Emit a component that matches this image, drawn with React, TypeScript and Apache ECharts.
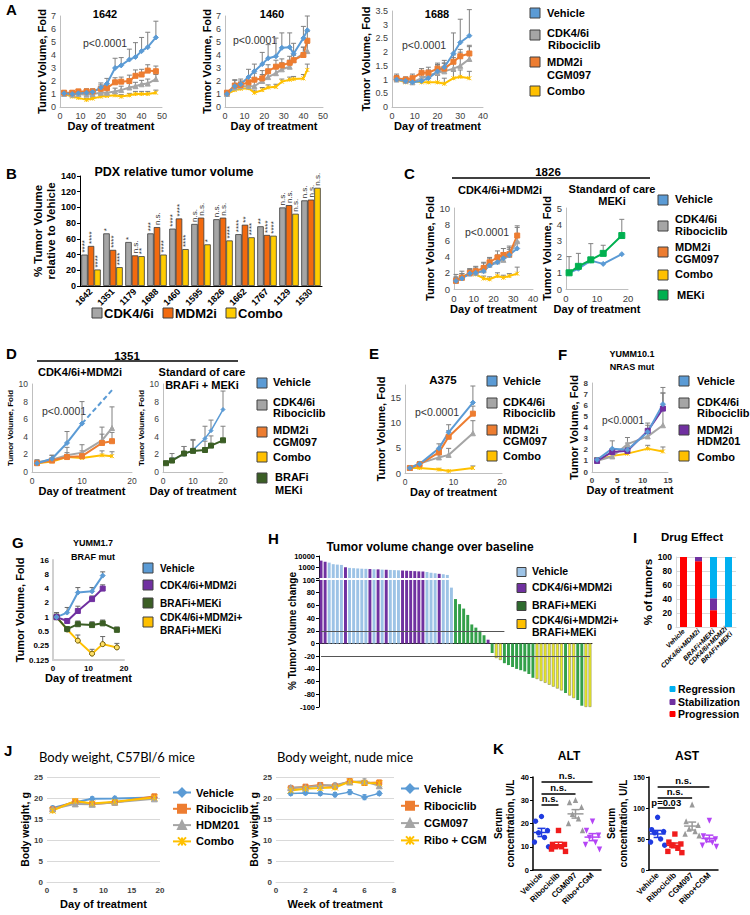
import React, { useEffect, useRef } from 'react';
import * as echarts from 'echarts';

const F = '"Liberation Sans", Arial, Helvetica, sans-serif';
const FL = 'Lato, "Open Sans", sans-serif';

const BLUE = '#5b9bd5';
const GRAY = '#a5a5a5';
const ORANGE = '#ed7d31';
const YELLOW = '#ffc000';
const PURPLE = '#7030a0';
const DKGREEN = '#3b5e25';
const GREEN = '#00b050';
const ERR = '#808080';
const STAR = 'path://M0,0L10,10M10,0L0,10M5,0L5,10';

// ---------------- A ----------------
const a1642Days = [2, 6, 9, 13, 16, 20, 23, 27, 30, 34, 37, 40, 43, 47];
const a1642Veh = [1.05, 1.0, 1.05, 1.1, 1.15, 1.5, 1.8, 3.0, 3.2, 3.65, 3.85, 4.3, 4.6, 5.35];
const a1642VehErr = [0.15, 0.15, 0.2, 0.15, 0.2, 0.35, 0.4, 0.75, 0.6, 0.8, 1.1, 1.05, 1.15, 1.25];
const a1642Cdk = [1.0, 0.95, 1.0, 0.95, 1.0, 1.1, 1.1, 1.2, 1.3, 1.5, 1.6, 1.75, 1.8, 2.15];
const a1642CdkErr = [0.15, 0.15, 0.15, 0.15, 0.15, 0.2, 0.25, 0.25, 0.3, 0.3, 0.3, 0.3, 0.35, 0.35];
const a1642Mdm = [1.1, 1.1, 1.2, 1.2, 1.2, 1.4, 1.45, 1.9, 1.95, 2.0, 2.4, 2.5, 2.8, 2.75];
const a1642MdmErr = [0.15, 0.15, 0.15, 0.2, 0.2, 0.3, 0.3, 0.35, 0.35, 0.45, 0.45, 0.4, 0.45, 0.4];
const a1642Combo = [1.0, 0.8, 0.7, 0.55, 0.65, 0.8, 0.85, 0.9, 0.8, 0.9, 1.0, 1.0, 1.0, 1.1];
const a1642ComboErr = [0.1, 0.1, 0.1, 0.1, 0.1, 0.1, 0.15, 0.15, 0.15, 0.15, 0.2, 0.2, 0.2, 0.2];

const a1460Days = [1, 5, 8, 12, 15, 19, 22, 26, 29, 33, 35, 40, 42];
const a1460Veh = [1.0, 1.6, 1.75, 2.3, 2.75, 3.3, 3.75, 3.9, 4.55, 4.6, 4.1, 5.3, 5.9];
const a1460VehErr = [0.15, 0.5, 0.4, 0.6, 0.55, 0.9, 1.05, 1.4, 1.15, 1.1, 0.8, 0.9, 1.1];
const a1460Cdk = [1.0, 1.5, 1.6, 1.6, 1.6, 2.0, 2.3, 2.6, 2.9, 3.1, 3.6, 4.1, 4.3];
const a1460CdkErr = [0.15, 0.3, 0.3, 0.4, 0.4, 0.5, 0.5, 0.5, 0.5, 0.5, 0.4, 0.5, 0.6];
const a1460Mdm = [1.1, 1.65, 1.7, 1.9, 2.1, 2.2, 2.75, 3.1, 3.2, 3.4, 3.6, 4.0, 5.1];
const a1460MdmErr = [0.15, 0.4, 0.3, 0.4, 0.5, 0.6, 0.5, 0.5, 0.5, 0.5, 0.4, 0.6, 0.7];
const a1460Combo = [1.0, 1.3, 1.4, 1.45, 1.1, 1.3, 1.5, 1.55, 1.95, 2.1, 2.15, 2.2, 2.85];
const a1460ComboErr = [0.1, 0.2, 0.2, 0.2, 0.2, 0.2, 0.2, 0.2, 0.2, 0.2, 0.2, 0.3, 0.45];

const a1688Days = [2, 6, 9, 13, 16, 20, 23, 27, 30, 34];
const a1688Veh = [1.0, 0.95, 0.9, 0.95, 1.05, 1.3, 1.45, 1.95, 2.35, 2.6];
const a1688VehErr = [0.2, 0.1, 0.1, 0.15, 0.15, 0.2, 0.25, 0.75, 0.85, 0.95];
const a1688Cdk = [1.0, 0.95, 0.9, 1.05, 1.15, 1.25, 1.3, 1.4, 1.5, 1.75];
const a1688CdkErr = [0.1, 0.1, 0.1, 0.15, 0.2, 0.3, 0.3, 0.4, 0.5, 0.45];
const a1688Mdm = [1.05, 1.0, 1.05, 1.25, 1.25, 1.4, 1.4, 1.65, 1.85, 1.95];
const a1688MdmErr = [0.1, 0.1, 0.15, 0.15, 0.2, 0.2, 0.2, 0.25, 0.25, 0.3];
const a1688Combo = [1.0, 0.9, 0.95, 0.9, 0.9, 0.9, 0.85, 1.05, 1.1, 1.05];
const a1688ComboErr = [0.1, 0.1, 0.1, 0.1, 0.15, 0.25, 0.2, 0.25, 0.25, 0.25];

// ---------------- B ----------------
const bCats = ['1642', '1351', '1179', '1688', '1460', '1595', '1826', '1662', '1767', '1129', '1530'];
const bCdk = [40, 67, 56, 67, 73, 79, 85, 66, 76, 100, 109];
const bMdm = [51, 46, 39, 75, 86, 87, 87, 78, 65, 103, 110];
const bCombo = [21, 24, 38, 40, 47, 53, 58, 62, 64, 92, 125];
const bSigCdk = ['****', '*', '*', '***', '****', 'n.s.', 'n.s.', '****', '**', 'n.s.', 'n.s.'];
const bSigMdm = ['****', '****', 'n.s.', 'n.s.', '****', 'n.s.', 'n.s.', '**', '****', 'n.s.', 'n.s.'];
const bSigCombo = ['****', '****', '**', '****', '****', '*', '****', '****', '****', 'n.s.', 'n.s.'];

// ---------------- C ----------------
const cDays = [1, 4, 8, 11, 15, 18, 22, 25, 28, 32];
const cVeh = [1.0, 1.3, 1.9, 2.0, 2.2, 2.9, 3.3, 3.8, 4.2, 5.0];
const cVehErr = [0.3, 0.4, 0.4, 0.5, 0.5, 0.6, 0.6, 0.7, 0.7, 0.8];
const cCdk = [1.1, 1.4, 1.9, 2.0, 2.3, 3.0, 3.4, 3.6, 4.2, 5.9];
const cCdkErr = [0.7, 0.8, 0.6, 0.8, 0.9, 0.8, 0.8, 0.8, 0.9, 1.7];
const cMdm = [1.0, 1.4, 2.0, 2.2, 2.6, 3.3, 3.9, 4.2, 4.3, 6.6];
const cMdmErr = [0.5, 0.5, 0.5, 0.5, 0.7, 0.6, 0.8, 0.8, 1.0, 1.2];
const cCombo = [1.0, 1.5, 1.9, 1.8, 1.3, 1.2, 1.6, 1.4, 1.6, 1.9];
const cComboErr = [0.4, 0.4, 0.5, 0.3, 0.3, 0.3, 0.4, 0.3, 0.3, 0.8];
const c2Days = [1, 4, 8, 12, 18];
const c2Veh = [1.0, 1.25, 1.75, 1.55, 2.15];
const c2Mek = [1.0, 1.4, 1.8, 2.2, 3.3];
const c2MekErr = [1.0, 0.8, 1.0, 0.5, 1.0];

// ---------------- D ----------------
const d1Days = [1, 4, 7, 10, 14, 16];
const d1VehDays = [1, 4, 7, 10];
const d1Veh = [1.0, 1.5, 3.3, 5.5];
const d1VehErr = [0.2, 0.4, 1.3, 2.5];
const d1VehProjDays = [10, 16];
const d1VehProj = [5.5, 9.3];
const d1Cdk = [1.1, 1.4, 1.9, 2.2, 3.6, 5.0];
const d1CdkErr = [0.3, 0.5, 0.9, 0.9, 1.5, 2.4];
const d1Mdm = [1.0, 1.3, 1.7, 1.8, 3.3, 3.5];
const d1MdmErr = [0.3, 0.3, 0.5, 0.6, 1.0, 1.0];
const d1Combo = [1.0, 1.2, 1.7, 1.6, 1.9, 1.8];
const d1ComboErr = [0.2, 0.3, 0.3, 0.4, 0.5, 0.5];
const d2Days = [1, 3, 7, 10, 14, 16, 20];
const d2Veh = [1.0, 1.4, 2.0, 2.5, 3.8, 4.7, 7.1];
const d2VehErr = [0.2, 0.7, 0.9, 1.1, 1.4, 1.2, 2.1];
const d2BrafMek = [1.0, 1.3, 2.1, 2.4, 2.5, 3.0, 3.6];
const d2BrafMekErr = [0.2, 0.3, 0.8, 1.3, 1.0, 1.1, 1.6];

// ---------------- E ----------------
const eDays = [1, 3, 7, 9, 14];
const eVeh = [1.0, 1.8, 4.9, 8.1, 14.0];
const eVehErr = [0.2, 0.4, 0.9, 1.5, 3.3];
const eCdk = [1.0, 1.9, 3.1, 3.6, 7.9];
const eCdkErr = [0.2, 0.3, 0.5, 1.3, 2.5];
const eMdm = [1.0, 1.7, 4.1, 7.2, 11.8];
const eMdmErr = [0.2, 0.3, 0.6, 1.2, 1.5];
const eCombo = [1.0, 1.0, 0.7, 0.4, 1.0];
const eComboErr = [0.1, 0.1, 0.1, 0.1, 0.4];

// ---------------- F ----------------
const fDays = [1, 4, 7, 11, 14];
const fVeh = [1.1, 2.1, 2.0, 3.6, 6.1];
const fVehErr = [0.2, 0.7, 0.6, 0.8, 1.5];
const fCdk = [1.0, 1.4, 2.5, 3.2, 4.2];
const fCdkErr = [0.3, 0.3, 0.6, 0.4, 2.9];
const fMdm = [1.0, 1.8, 1.9, 3.7, 5.7];
const fMdmErr = [0.3, 0.3, 0.3, 0.5, 1.4];
const fCombo = [1.05, 1.45, 1.65, 2.1, 1.85];
const fComboErr = [0.2, 0.2, 0.2, 0.3, 0.4];

// ---------------- G ----------------
const gDays = [1, 4, 7, 11, 14];
const gDaysLong = [1, 4, 7, 11, 14, 18];
const gVeh = [1.0, 1.25, 3.3, 3.5, 7.5];
const gVehErr = [0.25, 0.35, 0.9, 0.7, 1.5];
const gCdkMdm = [1.0, 0.83, 1.35, 2.4, 4.0];
const gCdkMdmErr = [0.15, 0.1, 0.35, 0.4, 0.8];
const gBrafMek = [1.0, 0.56, 0.71, 0.68, 0.74, 0.54];
const gBrafMekErr = [0.15, 0.05, 0.12, 0.12, 0.13, 0.08];
const gQuad = [1.0, 0.55, 0.32, 0.17, 0.27, 0.23];
const gQuadErr = [0.15, 0.05, 0.1, 0.04, 0.12, 0.05];

// ---------------- H ----------------
const hValues = [3800, 3000, 2500, 1800, 1650, 1550, 950, 830, 780, 740, 700, 680, 650, 630, 610, 580, 560, 540, 520, 500, 480, 460, 440, 420, 400, 390, 350, 300, 270, 240, 220, 190, 88, 70, 62, 55, 45, 30, 25, 20, 13, 6, -15, -23, -26, -31, -34, -37, -40, -42, -44, -48, -54, -56, -59, -62, -65, -68, -71, -74, -78, -82, -86, -89, -98, -100, -100];
const hGroup = [1, 1, 0, 0, 0, 0, 1, 0, 0, 0, 0, 0, 1, 0, 1, 0, 1, 0, 0, 0, 1, 1, 1, 1, 1, 1, 0, 0, 0, 1, 0, 0, 0, 2, 2, 2, 2, 2, 2, 2, 2, 1, 2, 3, 3, 2, 2, 2, 2, 2, 2, 2, 2, 3, 3, 3, 3, 3, 3, 3, 2, 3, 3, 2, 2, 3, 3];
const hRefLines = [20, -20];
const hRefEnds = [45, 66];

// ---------------- I ----------------
const iCats = ['Vehicle', 'CDK4/6i+MDM2i', 'BRAFi+MEKi', 'CDK4/6i+MDM2i\nBRAFi+MEKi'];
const iProgression = [100, 94, 24, 0];
const iStabilization = [0, 6, 17, 0];
const iRegression = [0, 0, 59, 100];

// ---------------- J ----------------
const jDays = [1, 5, 8, 12, 19];
const jVeh = [17.6, 19.0, 19.8, 19.9, 20.1];
const jRibo = [17.3, 19.2, 18.6, 18.9, 20.4];
const jHdm = [17.4, 18.6, 18.5, 19.0, 19.8];
const jCombo = [17.0, 19.3, 18.7, 19.1, 20.1];
const jErr = [0.5, 0.3, 0.5, 0.5, 0.4];
const jnWeeks = [1, 2, 3, 4, 5, 6, 7];
const jnVeh = [21.1, 21.2, 21.1, 20.8, 21.4, 20.2, 21.1];
const jnRibo = [22.3, 22.7, 23.1, 22.8, 24.0, 23.6, 23.7];
const jnCgm = [22.5, 22.5, 23.0, 23.1, 23.8, 24.0, 22.9];
const jnCombo = [21.8, 22.2, 22.4, 22.5, 23.9, 23.6, 23.5];
const jnErr = [0.5, 0.4, 0.5, 0.5, 0.6, 0.6, 0.5];

// ---------------- K ----------------
const kCats = ['Vehicle', 'Ribociclib', 'CGM097', 'Ribo+CGM'];
const altVeh = [23, 21, 17, 16, 14, 12, 10];
const altRibo = [17, 11, 11, 10, 10, 9, 8];
const altCgm = [30, 29, 27, 24, 22, 20, 17];
const altCombo = [21, 17, 15, 14, 12, 11, 9];
const astVeh = [85, 65, 62, 60, 50, 45, 40];
const astRibo = [58, 45, 42, 40, 35, 30, 28];
const astCgm = [105, 78, 72, 66, 62, 58, 55];
const astCombo = [80, 55, 50, 48, 45, 40, 38];
const altSigFrom = [0, 0, 0];
const altSigTo = [3, 2, 1];
const altSigY = [38, 33, 28];
const altSigText = ['n.s.', 'n.s.', 'n.s.'];
const astSigFrom = [0, 0, 0];
const astSigTo = [3, 2, 1];
const astSigY = [135, 117, 100];
const astSigText = ['n.s.', 'n.s.', 'p=0.03'];

// ---------------- layout ----------------
const GRIDS = [
  [60, 16, 102, 91],
  [225, 16, 98, 91],
  [392, 11, 91, 96],
  [80, 176, 242, 110],
  [454, 208, 79, 81],
  [566, 208, 62, 81],
  [32, 384, 100, 88],
  [163, 384, 60, 88],
  [405, 385, 97, 88],
  [592, 383, 76, 89],
  [53, 560, 71, 100],
  [319, 556, 273, 22],
  [319, 580, 273, 127],
  [676, 557, 60, 70],
  [47, 777, 113, 105],
  [276, 777, 118, 105],
  [533, 777, 68, 93],
  [649, 777, 69, 93],
];

const H_COLORS = ['#9dc3e6', '#7030a0', '#33a04a', '#eeee22'];
const K_COLORS = ['#1f3be0', '#f01c1c', '#9a9a9a', '#b445f5'];
const K_SHAPES = ['circle', 'square', 'triangle', 'down'];
const K_JITTER = [0, -6, 6, -3, 3, -7, 7];

function clean(o: any) {
  const r: any = {};
  Object.keys(o).forEach((k) => { if (o[k] !== undefined) r[k] = o[k]; });
  return r;
}

function valAxis(gi: number, min: number, max: number, interval: number | undefined, o: any = {}) {
  const lc = o.lineColor ?? '#bfbfbf';
  return clean({
    gridIndex: gi,
    type: o.type ?? 'value',
    logBase: o.logBase,
    min,
    max,
    interval,
    splitNumber: o.splitNumber,
    axisLine: { show: o.line !== false, onZero: false, lineStyle: { color: lc, width: o.lineWidth ?? 1 } },
    axisTick: { show: !!o.ticks, length: 3, lineStyle: { color: lc } },
    splitLine: { show: !!o.split, lineStyle: { color: '#d9d9d9', width: 1 } },
    axisLabel: clean({
      show: o.labels !== false,
      fontSize: o.fs ?? 9,
      fontFamily: F,
      color: o.lc ?? '#404040',
      fontWeight: o.bold ? 'bold' : 'normal',
      margin: o.margin ?? 4,
      formatter: o.fmt,
    }),
    name: o.name ?? '',
    nameLocation: 'middle',
    nameGap: o.gap ?? 14,
    nameTextStyle: clean({ fontSize: o.nfs ?? 11, fontWeight: 'bold', fontFamily: F, color: '#000', lineHeight: o.nlh }),
  });
}

function catAxis(gi: number, data: string[], o: any = {}) {
  return {
    gridIndex: gi,
    type: 'category',
    data,
    axisLine: { show: o.line !== false, onZero: o.onZero ?? true, lineStyle: { color: o.lineColor ?? '#000', width: o.lineWidth ?? 1 } },
    axisTick: { show: false },
    axisLabel: clean({
      show: o.labels !== false,
      interval: 0,
      rotate: o.rotate ?? 0,
      fontSize: o.fs ?? 9,
      fontFamily: F,
      fontWeight: 'bold',
      fontStyle: o.italic ? 'italic' : 'normal',
      color: '#000',
      margin: o.margin ?? 4,
      lineHeight: o.lh,
    }),
  };
}

function lineS(gi: number, xs: number[], ys: number[], color: string, symbol: string, size: number, extra: any = {}) {
  return {
    type: 'line',
    xAxisIndex: gi,
    yAxisIndex: gi,
    data: xs.map((x, i) => [x, ys[i]]),
    symbol,
    symbolSize: size,
    showAllSymbol: true,
    lineStyle: { color, width: 2 },
    itemStyle: { color, borderColor: color, borderWidth: 1 },
    z: 3,
    silent: true,
    ...extra,
  };
}

function errS(gi: number, xs: number[], ys: number[], es: number[], color = ERR, cap = 2.5, both = false) {
  return {
    type: 'custom',
    xAxisIndex: gi,
    yAxisIndex: gi,
    z: 2,
    silent: true,
    data: xs.map((x, i) => [x, ys[i], ys[i] + es[i], both ? ys[i] - es[i] : ys[i]]),
    encode: { x: 0, y: [1, 2, 3] },
    renderItem: (_p: any, api: any) => {
      const top = api.coord([api.value(0), api.value(2)]);
      const bot = api.coord([api.value(0), api.value(3)]);
      const st = { stroke: color, lineWidth: 1 };
      const kids: any[] = [
        { type: 'line', shape: { x1: top[0], y1: top[1], x2: bot[0], y2: bot[1] }, style: st },
        { type: 'line', shape: { x1: top[0] - cap, y1: top[1], x2: top[0] + cap, y2: top[1] }, style: st },
      ];
      if (both) kids.push({ type: 'line', shape: { x1: bot[0] - cap, y1: bot[1], x2: bot[0] + cap, y2: bot[1] }, style: st });
      return { type: 'group', children: kids };
    },
  };
}

function fourLines(gi: number, days: number[], veh: number[], vehE: number[], cdk: number[], cdkE: number[], mdm: number[], mdmE: number[], cmb: number[], cmbE: number[], mdmColor = ORANGE) {
  return [
    errS(gi, days, cmb, cmbE),
    errS(gi, days, cdk, cdkE),
    errS(gi, days, mdm, mdmE),
    errS(gi, days, veh, vehE),
    lineS(gi, days, cmb, YELLOW, STAR, 4),
    lineS(gi, days, cdk, GRAY, 'triangle', 5),
    lineS(gi, days, mdm, mdmColor, 'rect', 5),
    lineS(gi, days, veh, BLUE, 'diamond', 5),
  ];
}

function bBar(vals: number[], sig: string[], color: string) {
  return {
    type: 'bar',
    xAxisIndex: 3,
    yAxisIndex: 3,
    data: vals,
    barWidth: 6.5,
    barGap: '0%',
    silent: true,
    itemStyle: { color, borderColor: '#3a3a3a', borderWidth: 0.8 },
    label: {
      show: true,
      position: 'top',
      rotate: 90,
      align: 'left',
      verticalAlign: 'middle',
      distance: 2,
      fontSize: 8,
      fontFamily: F,
      color: '#333',
      formatter: (p: any) => sig[p.dataIndex],
    },
  };
}

function kPoints(gi: number, groups: number[][]) {
  const data: number[][] = [];
  groups.forEach((vals, g) => vals.forEach((v, j) => data.push([g, v, j])));
  return {
    type: 'custom',
    xAxisIndex: gi,
    yAxisIndex: gi,
    data,
    z: 3,
    silent: true,
    encode: { x: 0, y: 1 },
    renderItem: (_p: any, api: any) => {
      const g = api.value(0);
      const v = api.value(1);
      const j = api.value(2);
      const c = api.coord([g, v]);
      const x = c[0] + K_JITTER[j % K_JITTER.length];
      const y = c[1];
      const r = 2.7;
      const st = { fill: K_COLORS[g] };
      const shp = K_SHAPES[g];
      if (shp === 'circle') return { type: 'circle', shape: { cx: x, cy: y, r }, style: st };
      if (shp === 'square') return { type: 'rect', shape: { x: x - r, y: y - r, width: 2 * r, height: 2 * r }, style: st };
      if (shp === 'triangle') return { type: 'polygon', shape: { points: [[x, y - r - 0.6], [x + r, y + r], [x - r, y + r]] }, style: st };
      return { type: 'polygon', shape: { points: [[x - r, y - r], [x + r, y - r], [x, y + r + 0.6]] }, style: st };
    },
  };
}

function kMean(gi: number, groups: number[][]) {
  const data = groups.map((vals, g) => {
    const n = vals.length;
    const m = vals.reduce((a, b) => a + b, 0) / n;
    const sd = Math.sqrt(vals.reduce((a, b) => a + (b - m) * (b - m), 0) / (n - 1));
    const se = sd / Math.sqrt(n);
    return [g, m, m - se, m + se];
  });
  return {
    type: 'custom',
    xAxisIndex: gi,
    yAxisIndex: gi,
    data,
    z: 4,
    silent: true,
    encode: { x: 0, y: [1, 2, 3] },
    renderItem: (_p: any, api: any) => {
      const g = api.value(0);
      const cm = api.coord([g, api.value(1)]);
      const lo = api.coord([g, api.value(2)]);
      const hi = api.coord([g, api.value(3)]);
      const st = { stroke: K_COLORS[g], lineWidth: 1.5 };
      const ln = (x1: number, y1: number, x2: number, y2: number) => ({ type: 'line', shape: { x1, y1, x2, y2 }, style: st });
      return {
        type: 'group',
        children: [
          ln(cm[0] - 8, cm[1], cm[0] + 8, cm[1]),
          ln(lo[0], lo[1], hi[0], hi[1]),
          ln(lo[0] - 4, lo[1], lo[0] + 4, lo[1]),
          ln(hi[0] - 4, hi[1], hi[0] + 4, hi[1]),
        ],
      };
    },
  };
}

function kSig(gi: number, from: number[], to: number[], ys: number[], texts: string[]) {
  return {
    type: 'scatter',
    xAxisIndex: gi,
    yAxisIndex: gi,
    data: [[0, 0]],
    symbolSize: 0,
    silent: true,
    markLine: {
      silent: true,
      symbol: ['none', 'none'],
      lineStyle: { color: '#000', width: 1.5, type: 'solid' },
      label: { show: true, position: 'middle', formatter: '{b}', fontSize: 9.5, fontWeight: 'bold', fontFamily: F, color: '#000', distance: 1 },
      data: ys.map((y, i) => [{ name: texts[i], coord: [from[i], y] }, { coord: [to[i], y] }]),
    },
  };
}

const txt = (x: number, y: number, text: string, size = 11, o: any = {}) => ({
  type: 'text',
  x,
  y,
  rotation: o.rot ?? 0,
  silent: true,
  style: {
    text,
    fill: o.color ?? '#000',
    align: o.align ?? 'left',
    verticalAlign: 'middle',
    font: `${o.italic ? 'italic ' : ''}${o.weight ?? 'bold'} ${size}px ${o.family ?? F}`,
  },
});
const sq = (x: number, yc: number, color: string, s = 10, stroke = '#404040') => ({
  type: 'rect',
  silent: true,
  shape: { x, y: yc - s / 2, width: s, height: s },
  style: { fill: color, stroke, lineWidth: 1 },
});
const hline = (x1: number, x2: number, y: number, w = 1.5) => ({
  type: 'line',
  silent: true,
  shape: { x1, y1: y, x2, y2: y },
  style: { stroke: '#000', lineWidth: w },
});

function buildOption() {
  const tumorName = 'Tumor Volume, Fold';
  const dayName = 'Day of treatment';
  const xAxis: any[] = [
    valAxis(0, 0, 50, 10, { name: dayName, gap: 12 }),
    valAxis(1, 0, 50, 10, { name: dayName, gap: 12 }),
    valAxis(2, 0, 40, 10, { name: dayName, gap: 12 }),
    catAxis(3, bCats, { rotate: 45, fs: 9, lineColor: '#000' }),
    valAxis(4, 0, 40, 10, { name: dayName, gap: 13, fs: 9.5 }),
    valAxis(5, 0, 20, 10, { name: dayName, gap: 13, fs: 9.5 }),
    valAxis(6, 0, 20, 10, { name: dayName, gap: 13, fs: 8.5 }),
    valAxis(7, 0, 20, 10, { name: dayName, gap: 13, fs: 8.5 }),
    valAxis(8, 0, 20, 10, { name: dayName, gap: 12, fs: 8.5 }),
    valAxis(9, 0, 15, 5, { name: dayName, gap: 12, fs: 8, bold: true }),
    valAxis(10, 0, 20, 10, { name: dayName, gap: 12, fs: 8, bold: true, lc: '#000', lineColor: '#d0d0d0', lineWidth: 2 }),
    catAxis(11, hValues.map((_, i) => String(i + 1)), { line: false, labels: false }),
    catAxis(12, hValues.map((_, i) => String(i + 1)), { labels: false, lineColor: '#222', onZero: true }),
    catAxis(13, iCats, { rotate: 45, fs: 6.8, italic: true, lineColor: '#d9d9d9', lh: 7.5, margin: 3 }),
    valAxis(14, 0, 20, 5, { name: dayName, gap: 16, fs: 8, bold: true, lineColor: '#d9d9d9' }),
    valAxis(15, 0, 8, 2, { name: 'Week of treatment', gap: 16, fs: 8, bold: true, lineColor: '#d9d9d9' }),
    catAxis(16, kCats, { rotate: 45, fs: 8, lineColor: '#000', lineWidth: 1.5, onZero: false }),
    catAxis(17, kCats, { rotate: 45, fs: 8, lineColor: '#000', lineWidth: 1.5, onZero: false }),
  ];
  const yAxis: any[] = [
    valAxis(0, 0, 7, 1, { name: tumorName, gap: 12 }),
    valAxis(1, 0, 7, 1, { name: tumorName, gap: 12 }),
    valAxis(2, 0, 3.5, 0.5, { name: tumorName, gap: 20 }),
    valAxis(3, 0, 140, 20, { bold: true, fs: 9, lc: '#000', lineColor: '#000', ticks: true, name: '% Tumor Volume\nrelative to Vehicle', nfs: 11.5, nlh: 13, gap: 22 }),
    valAxis(4, 0, 10, 2, { name: tumorName, gap: 14, fs: 9.5 }),
    valAxis(5, 0, 5, 1, { name: tumorName, gap: 10, fs: 9.5 }),
    valAxis(6, 0, 10, 2, { name: tumorName, gap: 13, fs: 8.5, nfs: 8 }),
    valAxis(7, 0, 10, 2, { name: tumorName, gap: 13, fs: 8.5, nfs: 8 }),
    valAxis(8, 0, 17.5, 5, { name: tumorName, gap: 16, fs: 9.5, fmt: (v: number) => (v % 5 === 0 ? String(v) : '') }),
    valAxis(9, 0, 8, 1, { name: tumorName, gap: 10, fs: 8, bold: true }),
    valAxis(10, 0.125, 16, undefined, { type: 'log', logBase: 2, splitNumber: 7, name: tumorName, gap: 26, fs: 8, bold: true, lc: '#000', lineColor: '#d0d0d0', lineWidth: 2 }),
    valAxis(11, 100, 10000, undefined, { type: 'log', logBase: 10, splitNumber: 2, fs: 7.5, bold: true, lc: '#000', lineColor: '#000', ticks: true, fmt: (v: number) => (v === 100 ? '' : String(v)) }),
    valAxis(12, -100, 100, 20, { fs: 7.5, bold: true, lc: '#000', lineColor: '#000', ticks: true }),
    valAxis(13, 0, 100, 20, { fs: 8.5, bold: true, lc: '#000', split: true, lineColor: '#d9d9d9', name: '% of tumors', nfs: 11.5, gap: 18 }),
    valAxis(14, 0, 25, 5, { fs: 8, bold: true, split: true, line: false, name: 'Body weight, g', nfs: 10.5, gap: 15 }),
    valAxis(15, 0, 25, 5, { fs: 8, bold: true, split: true, line: false, name: 'Body weight, g', nfs: 10.5, gap: 15 }),
    valAxis(16, 0, 40, 10, { fs: 7.5, bold: true, lc: '#000', lineColor: '#000', lineWidth: 1.5, ticks: true, name: 'Serum\nconcentration, U/L', nfs: 10, nlh: 12, gap: 12 }),
    valAxis(17, 0, 150, 50, { fs: 7, bold: true, lc: '#000', lineColor: '#000', lineWidth: 1.5, ticks: true, name: 'Serum\nconcentration, U/L', nfs: 10, nlh: 12, gap: 15 }),
  ];

  const hItems = hValues.map((v, i) => ({
    value: v,
    itemStyle: hGroup[i] === 3
      ? { color: H_COLORS[3], borderColor: '#8c8c5a', borderWidth: 0.6 }
      : { color: H_COLORS[hGroup[i]] },
  }));

  const series: any[] = [
    ...fourLines(0, a1642Days, a1642Veh, a1642VehErr, a1642Cdk, a1642CdkErr, a1642Mdm, a1642MdmErr, a1642Combo, a1642ComboErr),
    ...fourLines(1, a1460Days, a1460Veh, a1460VehErr, a1460Cdk, a1460CdkErr, a1460Mdm, a1460MdmErr, a1460Combo, a1460ComboErr),
    ...fourLines(2, a1688Days, a1688Veh, a1688VehErr, a1688Cdk, a1688CdkErr, a1688Mdm, a1688MdmErr, a1688Combo, a1688ComboErr),
    bBar(bCdk, bSigCdk, '#a6a6a6'),
    bBar(bMdm, bSigMdm, '#f26a0f'),
    bBar(bCombo, bSigCombo, '#ffcc00'),
    ...fourLines(4, cDays, cVeh, cVehErr, cCdk, cCdkErr, cMdm, cMdmErr, cCombo, cComboErr),
    errS(5, c2Days, c2Mek, c2MekErr),
    lineS(5, c2Days, c2Veh, BLUE, 'diamond', 5),
    lineS(5, c2Days, c2Mek, GREEN, 'rect', 6),
    errS(6, d1Days, d1Combo, d1ComboErr),
    errS(6, d1Days, d1Cdk, d1CdkErr),
    errS(6, d1Days, d1Mdm, d1MdmErr),
    errS(6, d1VehDays, d1Veh, d1VehErr),
    lineS(6, d1Days, d1Combo, YELLOW, STAR, 4),
    lineS(6, d1Days, d1Cdk, GRAY, 'triangle', 5),
    lineS(6, d1Days, d1Mdm, ORANGE, 'rect', 5),
    lineS(6, d1VehDays, d1Veh, BLUE, 'diamond', 5),
    lineS(6, d1VehProjDays, d1VehProj, BLUE, 'none', 0, { lineStyle: { color: BLUE, width: 2, type: [5, 3] } }),
    errS(7, d2Days, d2Veh, d2VehErr),
    errS(7, d2Days, d2BrafMek, d2BrafMekErr),
    lineS(7, d2Days, d2Veh, BLUE, 'diamond', 4, { lineStyle: { color: BLUE, width: 1.5 } }),
    lineS(7, d2Days, d2BrafMek, DKGREEN, 'rect', 5),
    ...fourLines(8, eDays, eVeh, eVehErr, eCdk, eCdkErr, eMdm, eMdmErr, eCombo, eComboErr),
    ...fourLines(9, fDays, fVeh, fVehErr, fCdk, fCdkErr, fMdm, fMdmErr, fCombo, fComboErr, PURPLE),
    errS(10, gDays, gVeh, gVehErr, '#666'),
    errS(10, gDays, gCdkMdm, gCdkMdmErr, '#666'),
    errS(10, gDaysLong, gBrafMek, gBrafMekErr, '#666'),
    errS(10, gDaysLong, gQuad, gQuadErr, '#666'),
    lineS(10, gDaysLong, gQuad, YELLOW, 'circle', 5, { itemStyle: { color: '#ffe066', borderColor: '#6b5500', borderWidth: 1 } }),
    lineS(10, gDaysLong, gBrafMek, DKGREEN, 'rect', 5),
    lineS(10, gDays, gCdkMdm, PURPLE, 'rect', 5),
    lineS(10, gDays, gVeh, BLUE, 'diamond', 5),
    { type: 'bar', xAxisIndex: 11, yAxisIndex: 11, data: hItems, barWidth: '72%', silent: true, clip: true },
    {
      type: 'bar', xAxisIndex: 12, yAxisIndex: 12, data: hItems, barWidth: '72%', silent: true, clip: true,
      markLine: {
        silent: true,
        symbol: ['none', 'none'],
        label: { show: false },
        lineStyle: { color: '#555', width: 1, type: 'solid' },
        data: hRefLines.map((y, i) => [{ coord: [0, y] }, { coord: [hRefEnds[i], y] }]),
      },
    },
    { type: 'bar', stack: 'i', xAxisIndex: 13, yAxisIndex: 13, data: iProgression, barWidth: 7, itemStyle: { color: '#ff0000' }, silent: true },
    { type: 'bar', stack: 'i', xAxisIndex: 13, yAxisIndex: 13, data: iStabilization, barWidth: 7, itemStyle: { color: '#7030a0' }, silent: true },
    { type: 'bar', stack: 'i', xAxisIndex: 13, yAxisIndex: 13, data: iRegression, barWidth: 7, itemStyle: { color: '#00b0f0' }, silent: true },
    errS(14, jDays, jVeh, jErr, BLUE, 2, true),
    errS(14, jDays, jRibo, jErr, ORANGE, 2, true),
    errS(14, jDays, jHdm, jErr, GRAY, 2, true),
    errS(14, jDays, jCombo, jErr, YELLOW, 2, true),
    lineS(14, jDays, jVeh, BLUE, 'diamond', 6, { name: 'Vehicle' }),
    lineS(14, jDays, jRibo, ORANGE, 'rect', 5, { name: 'Ribociclib' }),
    lineS(14, jDays, jHdm, GRAY, 'triangle', 6, { name: 'HDM201' }),
    lineS(14, jDays, jCombo, YELLOW, STAR, 6, { name: 'Combo' }),
    errS(15, jnWeeks, jnVeh, jnErr, BLUE, 2, true),
    errS(15, jnWeeks, jnRibo, jnErr, ORANGE, 2, true),
    errS(15, jnWeeks, jnCgm, jnErr, GRAY, 2, true),
    errS(15, jnWeeks, jnCombo, jnErr, YELLOW, 2, true),
    lineS(15, jnWeeks, jnVeh, BLUE, 'diamond', 6, { name: 'Vehicle (nude)', lineStyle: { color: BLUE, width: 1.5 } }),
    lineS(15, jnWeeks, jnRibo, ORANGE, 'rect', 5, { name: 'Ribociclib (nude)' }),
    lineS(15, jnWeeks, jnCgm, GRAY, 'triangle', 6, { name: 'CGM097 (nude)' }),
    lineS(15, jnWeeks, jnCombo, YELLOW, STAR, 6, { name: 'Ribo + CGM (nude)' }),
    kPoints(16, [altVeh, altRibo, altCgm, altCombo]),
    kMean(16, [altVeh, altRibo, altCgm, altCombo]),
    kSig(16, altSigFrom, altSigTo, altSigY, altSigText),
    kPoints(17, [astVeh, astRibo, astCgm, astCombo]),
    kMean(17, [astVeh, astRibo, astCgm, astCombo]),
    kSig(17, astSigFrom, astSigTo, astSigY, astSigText),
  ];

  const L = 15;
  const graphic: any[] = [
    // letters
    txt(6, 9, 'A', L), txt(6, 173, 'B', L), txt(404, 173, 'C', L), txt(6, 353, 'D', L),
    txt(369, 353, 'E', L), txt(558, 354, 'F', L), txt(12, 542, 'G', L), txt(268, 538, 'H', L),
    txt(633, 537, 'I', L), txt(4, 750, 'J', L), txt(493, 748, 'K', L),
    // A
    txt(105, 14, '1642', 11, { align: 'center' }),
    txt(272, 14, '1460', 11, { align: 'center' }),
    txt(437, 14, '1688', 11, { align: 'center' }),
    txt(83, 43, 'p<0.0001', 10.5, { weight: 'normal', color: '#333' }),
    txt(233, 40, 'p<0.0001', 10.5, { weight: 'normal', color: '#333' }),
    txt(402, 45, 'p<0.0001', 10.5, { weight: 'normal', color: '#333' }),
    sq(530, 13, BLUE), txt(547, 13, 'Vehicle'),
    sq(530, 35, GRAY), txt(547, 33, 'CDK4/6i'), txt(548, 45, 'Ribociclib'),
    sq(530, 62, ORANGE), txt(547, 62, 'MDM2i'), txt(547, 75, 'CGM097'),
    sq(530, 91, YELLOW), txt(547, 91, 'Combo'),
    // B
    txt(174, 172, 'PDX relative tumor volume', 12.5, { align: 'center' }),
    sq(92, 313, '#a6a6a6'), txt(104, 313, 'CDK4/6i', 13),
    sq(163, 313, '#f26a0f'), txt(175, 313, 'MDM2i', 13),
    sq(226, 313, '#ffcc00'), txt(238, 313, 'Combo', 13),
    // C
    txt(548, 172, '1826', 11.5, { align: 'center' }),
    hline(452, 650, 178),
    txt(500, 190, 'CDK4/6i+MDM2i', 11, { align: 'center' }),
    txt(612, 189, 'Standard of care', 11, { align: 'center' }),
    txt(612, 201, 'MEKi', 11, { align: 'center' }),
    txt(465, 232, 'p<0.0001', 10.5, { weight: 'normal', color: '#333' }),
    sq(658, 200, BLUE), txt(675, 199, 'Vehicle'),
    sq(658, 226, GRAY), txt(675, 219, 'CDK4/6i'), txt(675, 231, 'Ribociclib'),
    sq(658, 252, ORANGE), txt(675, 247, 'MDM2i'), txt(675, 259, 'CGM097'),
    sq(658, 275, YELLOW), txt(675, 274, 'Combo'),
    sq(658, 295, GREEN), txt(677, 295, 'MEKi'),
    // D
    txt(127, 356, '1351', 11.5, { align: 'center' }),
    hline(37, 238, 361),
    txt(80, 372, 'CDK4/6i+MDM2i', 11, { align: 'center' }),
    txt(202, 372, 'Standard of care', 11, { align: 'center' }),
    txt(202, 385, 'BRAFi + MEKi', 11, { align: 'center' }),
    txt(42, 411, 'p<0.0001', 10.5, { weight: 'normal', color: '#333' }),
    sq(257, 383, BLUE), txt(273, 382, 'Vehicle'),
    sq(257, 405, GRAY), txt(273, 402, 'CDK4/6i'), txt(273, 413, 'Ribociclib'),
    sq(257, 432, ORANGE), txt(273, 430, 'MDM2i'), txt(273, 442, 'CGM097'),
    sq(257, 457, YELLOW), txt(273, 457, 'Combo'),
    sq(257, 478, DKGREEN), txt(275, 477, 'BRAFi'), txt(275, 490, 'MEKi'),
    // E
    txt(443, 380, 'A375', 11.5, { align: 'center' }),
    txt(415, 412, 'p<0.0001', 10.5, { weight: 'normal', color: '#333' }),
    sq(487, 381, BLUE), txt(503, 381, 'Vehicle'),
    sq(487, 403, GRAY), txt(503, 402, 'CDK4/6i'), txt(503, 413, 'Ribociclib'),
    sq(487, 430, ORANGE), txt(503, 430, 'MDM2i'), txt(503, 441, 'CGM097'),
    sq(487, 456, YELLOW), txt(503, 456, 'Combo'),
    // F
    txt(632, 354, 'YUMM10.1', 9, { align: 'center' }),
    txt(632, 367, 'NRAS mut', 9, { align: 'center' }),
    txt(602, 420, 'p<0.0001', 10, { weight: 'normal', color: '#333' }),
    sq(679, 381, BLUE), txt(697, 381, 'Vehicle'),
    sq(679, 403, GRAY), txt(697, 402, 'CDK4/6i'), txt(697, 413, 'Ribociclib'),
    sq(679, 430, PURPLE), txt(697, 430, 'MDM2i'), txt(697, 441, 'HDM201'),
    sq(679, 456, YELLOW), txt(697, 457, 'Combo'),
    // G
    txt(93, 543, 'YUMM1.7', 9, { align: 'center' }),
    txt(93, 557, 'BRAF mut', 9, { align: 'center' }),
    sq(143, 568, BLUE), txt(160, 568, 'Vehicle', 10),
    sq(143, 585, PURPLE), txt(160, 585, 'CDK4/6i+MDM2i', 10),
    sq(143, 603, DKGREEN), txt(160, 603, 'BRAFi+MEKi', 10),
    sq(143, 622, YELLOW), txt(160, 617, 'CDK4/6i+MDM2i+', 10), txt(160, 630, 'BRAFi+MEKi', 10),
    // H
    txt(430, 547, 'Tumor volume change over baseline', 12, { align: 'center' }),
    txt(292, 631, '% Tumor Volume change', 10, { align: 'center', rot: Math.PI / 2 }),
    sq(517, 572, H_COLORS[0], 9), txt(532, 571, 'Vehicle', 10.5),
    sq(517, 588, H_COLORS[1], 9), txt(532, 587, 'CDK4/6i+MDM2i', 10.5),
    sq(517, 606, '#2e6b2e', 9), txt(532, 605, 'BRAFi+MEKi', 10.5),
    sq(517, 624, '#ffc000', 9), txt(532, 620, 'CDK4/6i+MDM2i+', 10.5), txt(532, 632, 'BRAFi+MEKi', 10.5),
    // I
    txt(692, 537, 'Drug Effect', 11.5, { align: 'center' }),
    sq(670, 689, '#00b0f0', 5, '#00b0f0'), txt(678, 689, 'Regression', 10.5),
    sq(670, 702, '#7030a0', 5, '#7030a0'), txt(678, 702, 'Stabilization', 10.5),
    sq(670, 714, '#ff0000', 5, '#ff0000'), txt(678, 714, 'Progression', 10.5),
    // J
    txt(117, 757, 'Body weight, C57Bl/6 mice', 13, { align: 'center', weight: 'normal', family: FL }),
    txt(345, 757, 'Body weight, nude mice', 13, { align: 'center', weight: 'normal', family: FL }),
    // K
    txt(569, 756, 'ALT', 12, { align: 'center' }),
    txt(687, 756, 'AST', 12, { align: 'center' }),
  ];

  const legendText = { fontSize: 11, fontWeight: 'bold', fontFamily: F, color: '#000', lineHeight: 13 };

  return {
    animation: false,
    textStyle: { fontFamily: F },
    grid: GRIDS.map(([left, top, width, height]) => ({ left, top, width, height, containLabel: false })),
    xAxis,
    yAxis,
    series,
    legend: [
      {
        left: 172, top: 786, orient: 'vertical', itemWidth: 18, itemHeight: 10, itemGap: 3.3, padding: 0,
        selectedMode: false, textStyle: legendText,
        data: ['Vehicle', 'Ribociclib', 'HDM201', 'Combo'],
      },
      {
        left: 400, top: 782, orient: 'vertical', itemWidth: 18, itemHeight: 10, itemGap: 4.3, padding: 0,
        selectedMode: false, textStyle: legendText,
        formatter: (n: string) => n.replace(' (nude)', ''),
        data: ['Vehicle (nude)', 'Ribociclib (nude)', 'CGM097 (nude)', 'Ribo + CGM (nude)'],
      },
    ],
    graphic: { elements: graphic },
  };
}

export default function App() {
  const ref = useRef<HTMLDivElement>(null);
  useEffect(() => {
    document.body.style.margin = '0';
    const chart = echarts.init(ref.current as HTMLDivElement, null, { renderer: 'svg' });
    chart.setOption(buildOption() as any);
    return () => chart.dispose();
  }, []);
  return <div ref={ref} style={{ width: 750, height: 915 }} />;
}
